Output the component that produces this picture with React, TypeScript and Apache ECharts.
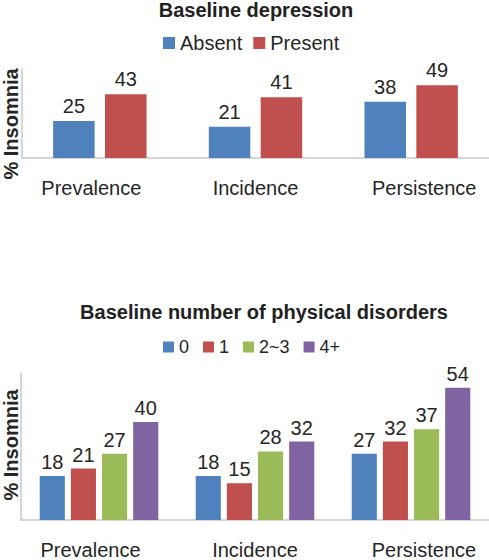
import React, { useEffect, useRef } from "react";
import * as echarts from "echarts";

const categories = ["Prevalence", "Incidence", "Persistence"];
const absent = [25, 21, 38];
const present = [43, 41, 49];
const disorders0 = [18, 18, 27];
const disorders1 = [21, 15, 32];
const disorders23 = [27, 28, 37];
const disorders4 = [40, 32, 54];

const FONT = '"Liberation Sans", Arial, Helvetica, sans-serif';
const TEXT = "#262626";
const BLUE = "#4f81bd";
const RED = "#c0504d";
const GREEN = "#9bbb59";
const PURPLE = "#8064a2";

const catPads = [
  [0, 17, 0, 0],
  [0, 0, 0, 0],
  [0, 0, 0, 26],
];

export default function App() {
  const ref = useRef<HTMLDivElement>(null);
  useEffect(() => {
    if (!ref.current) return;
    const chart = echarts.init(ref.current, null, { renderer: "svg" });
    const catData = categories.map((c, i) => ({
      value: c,
      textStyle: { padding: catPads[i] },
    }));
    const xAxisBase = {
      type: "category" as const,
      data: catData,
      axisLine: { show: true, lineStyle: { color: "#c8c8c8", width: 1.5 } },
      axisTick: { show: false },
      axisLabel: {
        interval: 0,
        margin: 20,
        fontSize: 20,
        color: TEXT,
        fontFamily: FONT,
      },
    };
    const yAxisBase = {
      type: "value" as const,
      min: 0,
      max: 60,
      axisLine: { show: true, lineStyle: { color: "#c8c8c8", width: 1.5 } },
      axisTick: { show: false },
      axisLabel: { show: false },
      splitLine: { show: false },
    };
    const valLabel = (d: number) => ({
      show: true,
      position: "top" as const,
      distance: d,
      fontSize: 20,
      color: TEXT,
      fontFamily: FONT,
    });
    const yName = (y: number) => ({
      type: "text",
      x: 11,
      y,
      rotation: Math.PI / 2,
      style: {
        text: "% Insomnia",
        fontSize: 20,
        fontWeight: "bold",
        fontFamily: FONT,
        fill: TEXT,
        align: "center",
        verticalAlign: "middle",
      },
    });
    const option = {
      animation: false,
      backgroundColor: "#ffffff",
      title: [
        {
          text: "Baseline depression",
          left: 256,
          top: 0,
          padding: 0,
          textAlign: "center",
          textStyle: { fontSize: 20, fontWeight: "bold", color: "#222", fontFamily: FONT },
        },
        {
          text: "Baseline number of physical disorders",
          left: 264,
          top: 302,
          padding: 0,
          textAlign: "center",
          textStyle: { fontSize: 20, fontWeight: "bold", color: "#222", fontFamily: FONT },
        },
      ],
      legend: [
        {
          data: ["Absent", "Present"],
          left: 163,
          top: 33,
          padding: 0,
          itemWidth: 12,
          itemHeight: 12,
          itemGap: 11,
          icon: "rect",
          textStyle: { fontSize: 20, color: TEXT, fontFamily: FONT },
        },
        {
          data: ["0", "1", "2~3", "4+"],
          left: 163,
          top: 338,
          padding: 0,
          itemWidth: 11,
          itemHeight: 11,
          itemGap: 14,
          icon: "rect",
          textStyle: { fontSize: 18, color: TEXT, fontFamily: FONT },
        },
      ],
      grid: [
        { left: 22, right: 0, top: 69, height: 89 },
        { left: 21, right: 0, top: 373, height: 149 },
      ],
      xAxis: [
        { ...xAxisBase, gridIndex: 0 },
        { ...xAxisBase, gridIndex: 1 },
      ],
      yAxis: [
        { ...yAxisBase, gridIndex: 0 },
        { ...yAxisBase, gridIndex: 1 },
      ],
      graphic: [yName(124), yName(445)],
      series: [
        {
          name: "Absent",
          type: "bar",
          xAxisIndex: 0,
          yAxisIndex: 0,
          data: absent,
          itemStyle: { color: BLUE },
          barGap: "25%",
          barCategoryGap: "40%",
          label: valLabel(5),
        },
        {
          name: "Present",
          type: "bar",
          xAxisIndex: 0,
          yAxisIndex: 0,
          data: present,
          itemStyle: { color: RED },
          barGap: "25%",
          barCategoryGap: "40%",
          label: valLabel(5),
        },
        {
          name: "0",
          type: "bar",
          xAxisIndex: 1,
          yAxisIndex: 1,
          data: disorders0,
          itemStyle: { color: BLUE },
          barGap: "24%",
          barCategoryGap: "24%",
          label: valLabel(4),
        },
        {
          name: "1",
          type: "bar",
          xAxisIndex: 1,
          yAxisIndex: 1,
          data: disorders1,
          itemStyle: { color: RED },
          barGap: "24%",
          barCategoryGap: "24%",
          label: valLabel(4),
        },
        {
          name: "2~3",
          type: "bar",
          xAxisIndex: 1,
          yAxisIndex: 1,
          data: disorders23,
          itemStyle: { color: GREEN },
          barGap: "24%",
          barCategoryGap: "24%",
          label: valLabel(4),
        },
        {
          name: "4+",
          type: "bar",
          xAxisIndex: 1,
          yAxisIndex: 1,
          data: disorders4,
          itemStyle: { color: PURPLE },
          barGap: "24%",
          barCategoryGap: "24%",
          label: valLabel(4),
        },
      ],
    };
    chart.setOption(option as any);
    return () => chart.dispose();
  }, []);
  return (
    <div
      ref={ref}
      style={{ position: "absolute", left: 0, top: 0, width: 489, height: 560 }}
    />
  );
}
